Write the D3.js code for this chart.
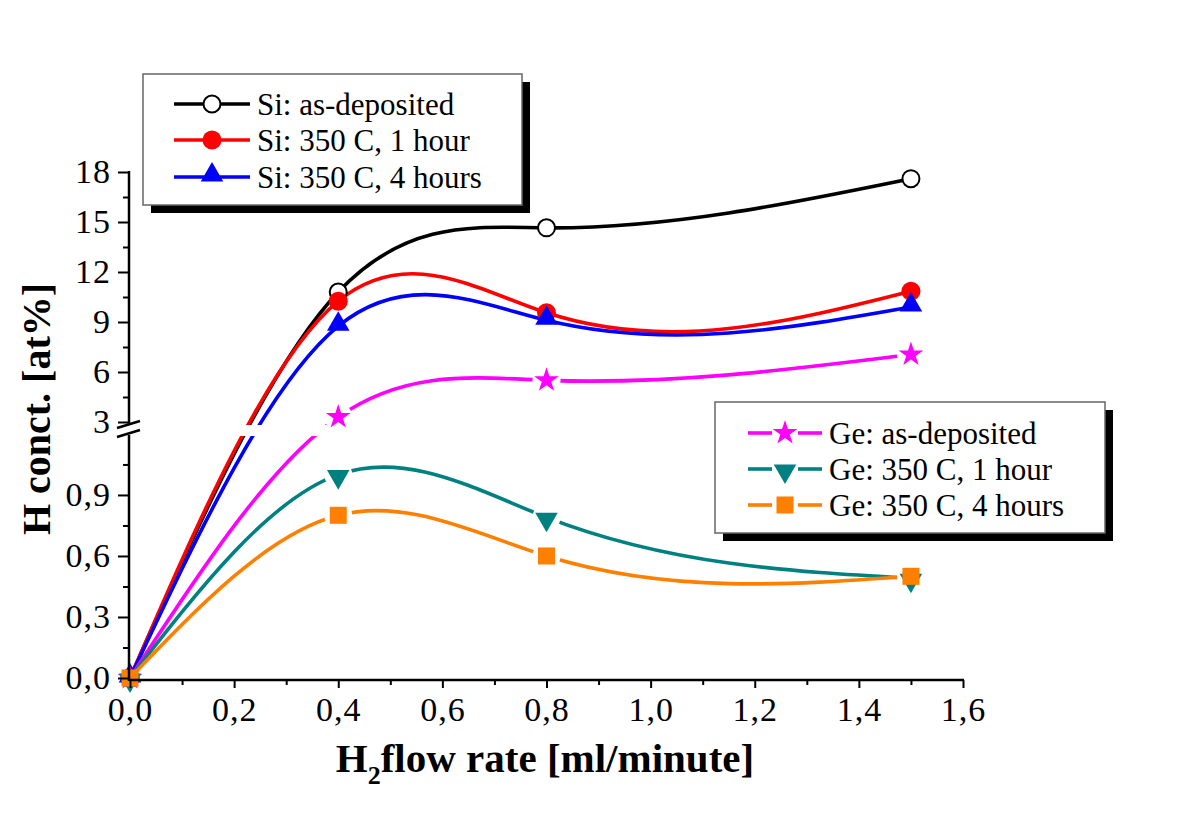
<!DOCTYPE html>
<html>
<head>
<meta charset="utf-8">
<script src="https://cdn.jsdelivr.net/npm/d3@7"></script>
<style>
  body { margin: 0; background: #fff; }
  svg text { font-family: "Liberation Serif", "Times New Roman", serif; }
</style>
</head>
<body>
<svg id="chart" width="1200" height="826"></svg>
<script>
// data
let flow = [0, 0.4, 0.8, 1.5];
let siAsDep = [0, 10.8, 14.65, 17.6];
let si1h    = [0, 10.25, 9.55, 10.85];
let si4h    = [0, 8.75, 9.1, 9.9];
let geAsDep = [0, 3.3, 5.5, 7.05];
let ge1h    = [0, 1.0, 0.79, 0.49];
let ge4h    = [0, 0.8, 0.6, 0.5];

let xTicks = [0, 0.2, 0.4, 0.6, 0.8, 1.0, 1.2, 1.4, 1.6];
let yLowTicks = [0, 0.3, 0.6, 0.9];
let yHighTicks = [3, 6, 9, 12, 15, 18];

let series = [
  {name: "Si: as-deposited",  values: siAsDep, color: "#000000", symbol: "circleOpen", group: "si"},
  {name: "Si: 350 C, 1 hour", values: si1h,    color: "#ff0000", symbol: "circle",     group: "si"},
  {name: "Si: 350 C, 4 hours",values: si4h,    color: "#0000ff", symbol: "triangle",   group: "si"},
  {name: "Ge: as-deposited",  values: geAsDep, color: "#ff00ff", symbol: "star",       group: "ge"},
  {name: "Ge: 350 C, 1 hour", values: ge1h,    color: "#008080", symbol: "triangleDown", group: "ge"},
  {name: "Ge: 350 C, 4 hours",values: ge4h,    color: "#ff8000", symbol: "square",     group: "ge"}
];

let svg = d3.select("#chart");

let xScale = d3.scaleLinear().domain([0, 1.6]).range([130, 963]);
// broken y axis: lower and upper pieces
let yLow = d3.scaleLinear().domain([0, 1.185]).range([678, 437]);
let yHigh = d3.scaleLinear().domain([3, 18]).range([422, 172]);
function yPos(v){ return v < 2 ? yLow(v) : yHigh(v); }

function comma(f){ return function(d){ return d3.format(f)(d).replace(".", ","); }; }

// natural cubic spline y(x), written out as bezier pieces (d3 curve factory)
function curveSplineX(context){
  let xs, ys;
  return {
    areaStart: function(){}, areaEnd: function(){},
    lineStart: function(){ xs = []; ys = []; },
    point: function(x, y){ xs.push(+x); ys.push(+y); },
    lineEnd: function(){
      let n = xs.length;
      if(n < 3){
        context.moveTo(xs[0], ys[0]);
        for(let i=1; i<n; i++) context.lineTo(xs[i], ys[i]);
        return;
      }
      let h = [], d = [];
      for(let i=0; i<n-1; i++){
        h.push(xs[i+1] - xs[i]);
        d.push((ys[i+1] - ys[i]) / h[i]);
      }
      // second derivatives, M[0] = M[n-1] = 0
      let a = [], b = [], c = [], r = [];
      for(let i=1; i<n-1; i++){
        a.push(h[i-1]); b.push(2 * (h[i-1] + h[i])); c.push(h[i]);
        r.push(6 * (d[i] - d[i-1]));
      }
      let m = a.length;
      for(let i=1; i<m; i++){
        let w = a[i] / b[i-1];
        b[i] -= w * c[i-1];
        r[i] -= w * r[i-1];
      }
      let M = new Array(n).fill(0);
      M[m] = r[m-1] / b[m-1];
      for(let i=m-2; i>=0; i--) M[i+1] = (r[i] - c[i] * M[i+2]) / b[i];
      context.moveTo(xs[0], ys[0]);
      for(let i=0; i<n-1; i++){
        let s0 = d[i] - h[i] * (2 * M[i] + M[i+1]) / 6;
        let s1 = d[i] + h[i] * (M[i] + 2 * M[i+1]) / 6;
        context.bezierCurveTo(
          xs[i] + h[i] / 3, ys[i] + s0 * h[i] / 3,
          xs[i+1] - h[i] / 3, ys[i+1] - s1 * h[i] / 3,
          xs[i+1], ys[i+1]);
      }
    }
  };
}

// symbols
function drawSymbol(g, type, color, x, y){
  if(type == "circleOpen"){
    g.append("circle").attr("cx", x).attr("cy", y).attr("r", 8.5)
      .attr("fill", "#fff").attr("stroke", color).attr("stroke-width", 2);
  } else if(type == "circle"){
    g.append("circle").attr("cx", x).attr("cy", y).attr("r", 9.5).attr("fill", color);
  } else {
    let t = {triangle: d3.symbolTriangle, triangleDown: d3.symbolTriangle,
             star: d3.symbolStar, square: d3.symbolSquare}[type];
    let size = {triangle: 220, triangleDown: 220, star: 190, square: 290}[type];
    let dy = type == "triangle" ? -2 : type == "triangleDown" ? 2 : 0;
    g.append("path")
      .attr("d", d3.symbol().type(t).size(size)())
      .attr("transform", "translate(" + x + "," + (y + dy) + ")" + (type == "triangleDown" ? " rotate(180)" : ""))
      .attr("fill", color);
  }
}

// masks so the Ge lines stop short of their symbols
let defs = svg.append("defs");
series.forEach(function(s, i){
  if(s.group != "ge") return;
  let m = defs.append("mask").attr("id", "gap" + i).attr("maskUnits", "userSpaceOnUse")
    .attr("x", 0).attr("y", 0).attr("width", 1200).attr("height", 826);
  m.append("rect").attr("width", 1200).attr("height", 826).attr("fill", "#fff");
  flow.forEach(function(f, j){
    if(j == 0) return;
    m.append("circle").attr("cx", xScale(f)).attr("cy", yPos(s.values[j])).attr("r", 14).attr("fill", "#000");
  });
});

// curves
let line = d3.line()
  .x(function(d){ return xScale(d[0]); })
  .y(function(d){ return yPos(d[1]); })
  .curve(curveSplineX);

series.forEach(function(s, i){
  let pts = flow.map(function(f, j){ return [f, s.values[j]]; });
  let p = svg.append("path")
    .attr("d", line(pts))
    .attr("fill", "none")
    .attr("stroke", s.color)
    .attr("stroke-width", 3.6);
  if(s.group == "ge") p.attr("mask", "url(#gap" + i + ")");
});

// white band where the axis is broken
svg.append("rect").attr("x", 131).attr("y", 425).attr("width", 840).attr("height", 11).attr("fill", "#fff");

// markers
series.forEach(function(s){
  let g = svg.append("g");
  flow.forEach(function(f, j){
    drawSymbol(g, s.symbol, s.color, xScale(f), yPos(s.values[j]));
  });
});

// axes
svg.append("g")
  .attr("transform", "translate(0,680)")
  .call(d3.axisBottom(xScale).tickValues(xTicks).tickFormat(comma(".1f")).tickSize(8).tickSizeOuter(0).tickPadding(9));
svg.append("g")
  .attr("transform", "translate(0,680)")
  .call(d3.axisBottom(xScale).tickValues(d3.range(0.1, 1.6, 0.2)).tickFormat("").tickSize(5).tickSizeOuter(0));

svg.append("g")
  .attr("transform", "translate(129,0)")
  .call(d3.axisLeft(yLow).tickValues(yLowTicks).tickFormat(comma(".1f")).tickSize(11).tickSizeOuter(0).tickPadding(7));
svg.append("g")
  .attr("transform", "translate(129,0)")
  .call(d3.axisLeft(yLow).tickValues([0.15, 0.45, 0.75, 1.05]).tickFormat("").tickSize(6).tickSizeOuter(0));

svg.append("g")
  .attr("transform", "translate(129,0)")
  .call(d3.axisLeft(yHigh).tickValues(yHighTicks).tickFormat(d3.format("d")).tickSize(11).tickSizeOuter(0).tickPadding(7));
svg.append("g")
  .attr("transform", "translate(129,0)")
  .call(d3.axisLeft(yHigh).tickValues(d3.range(4.5, 18, 3)).tickFormat("").tickSize(6).tickSizeOuter(0));

svg.selectAll(".domain").remove();
svg.selectAll(".tick line").attr("stroke", "#000").attr("stroke-width", 2);
svg.selectAll(".tick text").attr("font-size", 34).attr("letter-spacing", 1).attr("fill", "#000");

// axis lines drawn by hand so the break shows
svg.append("line").attr("x1", 129).attr("x2", 964).attr("y1", 680).attr("y2", 680).attr("stroke", "#000").attr("stroke-width", 2.5);
svg.append("line").attr("x1", 129).attr("x2", 129).attr("y1", 681).attr("y2", 435).attr("stroke", "#000").attr("stroke-width", 2.5);
svg.append("line").attr("x1", 129).attr("x2", 129).attr("y1", 424).attr("y2", 171).attr("stroke", "#000").attr("stroke-width", 2.5);
svg.append("line").attr("x1", 117).attr("y1", 428).attr("x2", 140).attr("y2", 421).attr("stroke", "#000").attr("stroke-width", 2.5);
svg.append("line").attr("x1", 117).attr("y1", 437).attr("x2", 140).attr("y2", 430).attr("stroke", "#000").attr("stroke-width", 2.5);

// axis titles
let xt = svg.append("text").attr("x", 545).attr("y", 772).attr("text-anchor", "middle")
  .attr("font-size", 41).attr("font-weight", "bold").attr("fill", "#000");
xt.append("tspan").text("H");
xt.append("tspan").attr("font-size", 26).attr("dy", 12).text("2");
xt.append("tspan").attr("dy", -12).text("flow rate [ml/minute]");

svg.append("text").attr("transform", "translate(50,409) rotate(-90)")
  .attr("text-anchor", "middle").attr("font-size", 40).attr("font-weight", "bold").attr("fill", "#000")
  .text("H conct. [at%]");

// legends
function legend(x, y, w, h, items, rowY, lx1, lx2, tx){
  let g = svg.append("g");
  g.append("rect").attr("x", x + 8).attr("y", y + 8).attr("width", w).attr("height", h).attr("fill", "#000");
  g.append("rect").attr("x", x).attr("y", y).attr("width", w).attr("height", h)
    .attr("fill", "#fff").attr("stroke", "#666").attr("stroke-width", 1.5);
  items.forEach(function(s, i){
    let cy = rowY[i];
    let cx = (lx1 + lx2) / 2;
    if(s.group == "ge"){
      g.append("line").attr("x1", lx1).attr("x2", cx - 13).attr("y1", cy).attr("y2", cy).attr("stroke", s.color).attr("stroke-width", 3.6);
      g.append("line").attr("x1", cx + 13).attr("x2", lx2).attr("y1", cy).attr("y2", cy).attr("stroke", s.color).attr("stroke-width", 3.6);
    } else {
      g.append("line").attr("x1", lx1).attr("x2", lx2).attr("y1", cy).attr("y2", cy).attr("stroke", s.color).attr("stroke-width", 3.6);
    }
    drawSymbol(g, s.symbol, s.color, cx, cy);
    g.append("text").attr("x", tx).attr("y", cy).attr("dy", "0.35em")
      .attr("font-size", 31).attr("fill", "#000").text(s.name);
  });
}
legend(143, 74, 379, 131, series.slice(0, 3), [104, 140, 177], 174, 250, 257);
legend(715, 402, 390, 131, series.slice(3), [433, 469, 505], 748, 822, 829);
</script>
</body>
</html>
